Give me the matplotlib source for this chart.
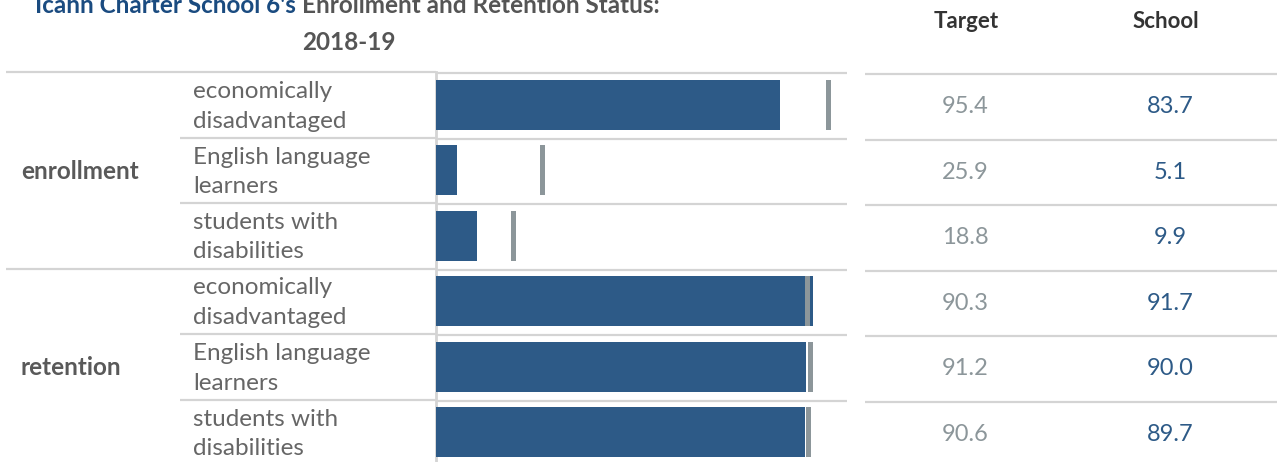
import numpy as np
import matplotlib.pyplot as plt

#------------------------------------------------------------
groups = ["enrollment", "retention"]
subgroups = ["economically\ndisadvantaged", "English language\nlearners", "students with\ndisabilities"]
target = [95.4, 25.9, 18.8, 90.3, 91.2, 90.6]
school = [83.7, 5.1, 9.9, 91.7, 90.0, 89.7]
title_blue = "Icahn Charter School 6's "
title_gray = "Enrollment and Retention Status:"
title_line2 = "2018-19"
col_heads = ["Target", "School"]

plt.rcParams['font.family'] = ['Lato', 'DejaVu Sans']

W, H = 1277, 462
fig = plt.figure(figsize=(W / 100, H / 100), dpi=100)

top = 72
row_h = 65.5
n = len(school)
grid_c = '#d4d4d4'
bar_c = '#2d5a87'
tgt_c = '#8c969a'

#overlay axes in pixel coordinates for the table parts
ov = fig.add_axes([0, 0, 1, 1])
ov.set_xlim(0, W)
ov.set_ylim(H, 0)
ov.axis('off')

#bars
ax = fig.add_axes([436 / W, (H - (top + n * row_h)) / H, (847 - 436) / W, n * row_h / H])
y = np.arange(n)
ax.barh(y, school, height=0.77, color=bar_c)
ax.barh(y, 1.2, left=np.array(target) - 0.6, height=0.77, color=tgt_c)
ax.set_xlim(0, 100)
ax.set_ylim(n - 0.5, -0.5)
ax.axis('off')

#grid lines
for k in range(n):
    yy = top + k * row_h
    x0 = 6 if k % 3 == 0 else 180
    ov.plot([x0, 436], [yy, yy], color=grid_c, lw=1.6, solid_capstyle='butt')
    ov.plot([436, 847], [yy + 1, yy + 1], color=grid_c, lw=1.6, solid_capstyle='butt')
    ov.plot([865, W], [yy + 2, yy + 2], color=grid_c, lw=1.6, solid_capstyle='butt')
ov.plot([436, 436], [top, H], color=grid_c, lw=2)

#row labels and values
for i in range(n):
    yc = top + (i + 0.5) * row_h
    ov.text(193, yc + 1.5, subgroups[i % 3], fontsize=17.5, color='#666666', va='center',
            ha='left', linespacing=1.5)
    ov.text(965, yc + 2, f"{target[i]:.1f}", fontsize=17, color=tgt_c, va='center', ha='center')
    ov.text(1170, yc + 2, f"{school[i]:.1f}", fontsize=17, color=bar_c, va='center', ha='center')

for g, name in enumerate(groups):
    yc = top + (g * 3 + 1.5) * row_h
    ov.text(21, yc + 1, name, fontsize=17.5, fontweight='bold', color='#595959', va='center', ha='left')

ov.text(966, 21, col_heads[0], fontsize=16, fontweight='bold', color='#333333', va='center', ha='center')
ov.text(1166, 21, col_heads[1], fontsize=16, fontweight='bold', color='#333333', va='center', ha='center')

#title, two colours on first line
r = fig.canvas.get_renderer()
t1 = ov.text(0, 13, title_blue, fontsize=17.5, fontweight='bold', color='#1a4b80', va='baseline', ha='left')
t2 = ov.text(0, 13, title_gray, fontsize=17.5, fontweight='bold', color='#555555', va='baseline', ha='left')
w1 = t1.get_window_extent(r).width
w2 = t2.get_window_extent(r).width
x_start = 347 - (w1 + w2) / 2
t1.set_x(x_start)
t2.set_x(x_start + w1)
ov.text(349, 50, title_line2, fontsize=17.5, fontweight='bold', color='#555555', va='baseline', ha='center')

plt.savefig('out.png', dpi=100)
